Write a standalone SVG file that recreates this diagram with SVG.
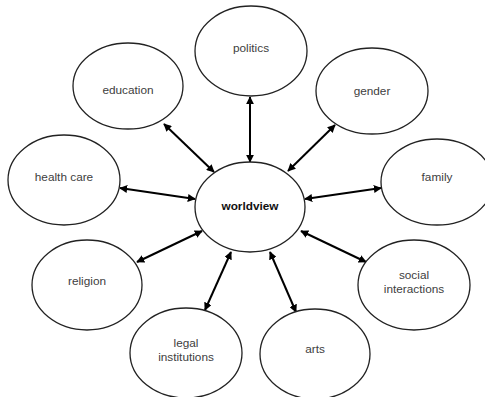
<svg xmlns="http://www.w3.org/2000/svg" width="485" height="397" viewBox="0 0 485 397">
<defs>
<style>
.n ellipse{fill:#fff;stroke:#222;stroke-width:1.3}
.n text{font-family:"Liberation Sans",Arial,sans-serif;font-size:11.8px;fill:#404040;text-anchor:middle}
.c line{stroke:#000;stroke-width:2;marker-start:url(#a);marker-end:url(#a)}
</style>
<marker id="a" viewBox="0 0 10 10" refX="9" refY="5" markerWidth="4" markerHeight="4" orient="auto-start-reverse" markerUnits="strokeWidth">
<path d="M0,0 L10,5 L0,10 z" fill="#000"/>
</marker>
</defs>
<rect width="485" height="397" fill="#fff"/>
<g class="c">
<line x1="250" y1="97" x2="250" y2="162"/>
<line x1="164" y1="124" x2="214" y2="172"/>
<line x1="335" y1="125" x2="288" y2="171"/>
<line x1="120" y1="188" x2="195" y2="199"/>
<line x1="305" y1="199" x2="381" y2="188"/>
<line x1="137" y1="262" x2="202" y2="231"/>
<line x1="301" y1="231" x2="366" y2="262"/>
<line x1="231" y1="252" x2="205" y2="310"/>
<line x1="270" y1="252" x2="296" y2="312"/>
</g>
<g id="politics" class="n"><ellipse cx="251" cy="51" rx="56" ry="45"/><text x="251" y="52">politics</text></g>
<g id="education" class="n"><ellipse cx="128" cy="86" rx="55" ry="43"/><text x="128" y="94">education</text></g>
<g id="gender" class="n"><ellipse cx="372" cy="91" rx="56" ry="43"/><text x="372" y="95">gender</text></g>
<g id="healthcare" class="n"><ellipse cx="64" cy="180" rx="56" ry="45"/><text x="64" y="181">health care</text></g>
<g id="family" class="n"><ellipse cx="437" cy="182" rx="56" ry="43"/><text x="437" y="181">family</text></g>
<g id="worldview" class="n"><ellipse cx="250" cy="207" rx="55" ry="45"/><text x="250" y="210" style="font-weight:bold;font-size:11.8px;fill:#111">worldview</text></g>
<g id="religion" class="n"><ellipse cx="87" cy="285" rx="55" ry="45"/><text x="87" y="285">religion</text></g>
<g id="social" class="n"><ellipse cx="414" cy="285" rx="56" ry="45"/><text x="414" y="279">social</text><text x="414" y="293">interactions</text></g>
<g id="legal" class="n"><ellipse cx="186" cy="353" rx="56" ry="45"/><text x="186" y="347">legal</text><text x="186" y="361">institutions</text></g>
<g id="arts" class="n"><ellipse cx="315" cy="354" rx="55" ry="45"/><text x="315" y="353">arts</text></g>
</svg>
